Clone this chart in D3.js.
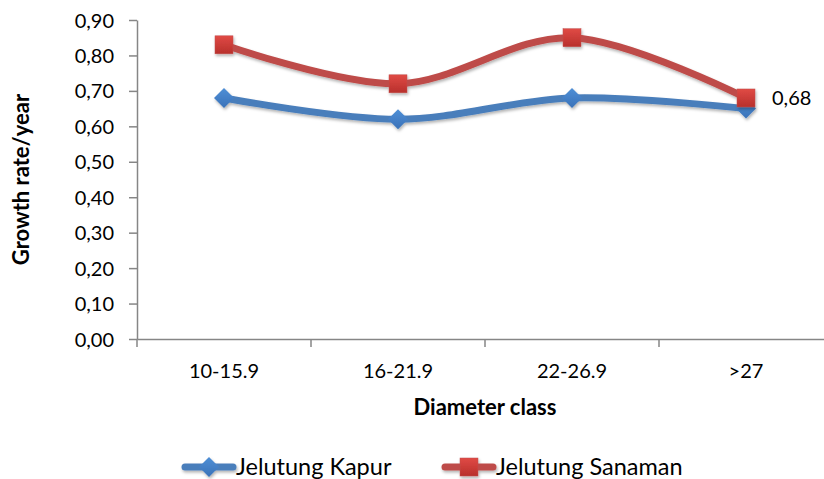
<!DOCTYPE html>
<html><head><meta charset="utf-8">
<script src="https://cdn.jsdelivr.net/npm/d3@7"></script>
<style>body{margin:0;background:#fff}svg{display:block}text{font-family:Lato,"Open Sans",sans-serif;fill:#000}</style>
</head><body><svg id="c" width="824" height="479"></svg>
<script>
const categories = ["10-15.9","16-21.9","22-26.9",">27"];
const kapur = [0.68,0.62,0.68,0.65];
const sanaman = [0.83,0.72,0.85,0.68];
const yTicks = [0,0.1,0.2,0.3,0.4,0.5,0.6,0.7,0.8,0.9];
const seriesNames = ["Jelutung Kapur","Jelutung Sanaman"];

(function(){
const svg = d3.select("#c");
const pL = 137, pR = 833, pT = 20, pB = 339;
const x = d3.scaleBand().domain(categories).range([pL, pR]);
const y = d3.scaleLinear().domain([0,0.9]).range([pB, pT]);
const fmt = v => d3.format(".2f")(v).replace(".", ",");

const defs = svg.append("defs");
const f = defs.append("filter").attr("id","sh").attr("x","-10%").attr("y","-10%").attr("width","130%").attr("height","140%");
f.append("feDropShadow").attr("dx",1).attr("dy",2).attr("stdDeviation",1.5).attr("flood-color","#000").attr("flood-opacity",0.3);
const gr = defs.append("linearGradient").attr("id","rg").attr("x1",0).attr("y1",0).attr("x2",0).attr("y2",1);
gr.append("stop").attr("offset","0").attr("stop-color","#e04a45");
gr.append("stop").attr("offset","1").attr("stop-color","#b8302c");
const gb = defs.append("linearGradient").attr("id","bg").attr("x1",0).attr("y1",0).attr("x2",0).attr("y2",1);
gb.append("stop").attr("offset","0").attr("stop-color","#4f8fd6");
gb.append("stop").attr("offset","1").attr("stop-color","#3a72b8");

const ya = svg.append("g").attr("transform",`translate(${pL},0)`)
  .call(d3.axisLeft(y).tickValues(yTicks).tickFormat(fmt).tickSize(8).tickSizeOuter(0));
const xa = svg.append("g").attr("transform",`translate(0,${pB})`)
  .call(d3.axisBottom(x).tickSize(0).tickSizeOuter(0));
[ya,xa].forEach(g=>{g.select(".domain").attr("stroke","#868686").attr("stroke-width",1.5);
  g.selectAll(".tick line").attr("stroke","#868686").attr("stroke-width",1.5);
  g.selectAll("text").style("font-size","20px").attr("fill","#000");});
ya.selectAll("text").attr("x",-23).attr("dy","0.35em");
xa.selectAll(".tick text").attr("dy",0).attr("y",39);
const bounds = categories.map(c=>x(c)).concat([x(categories[categories.length-1])+x.bandwidth()]);
xa.selectAll(".bt").data(bounds).enter().append("line").attr("class","bt")
  .attr("x1",d=>d).attr("x2",d=>d).attr("y1",0).attr("y2",8).attr("stroke","#868686").attr("stroke-width",1.5);

const cx = c => x(c) + x.bandwidth()/2;
const line = d3.line().x((d,i)=>cx(categories[i])).y(d=>y(d)).curve(d3.curveCatmullRom.alpha(0));

const series = [
  {name:seriesNames[0], values:kapur, color:"#4a7ebb", shape:"diamond"},
  {name:seriesNames[1], values:sanaman, color:"#be4b48", shape:"square"}
];
function marker(g, shape){
  if(shape==="square") g.append("rect").attr("x",-9).attr("y",-9).attr("width",18).attr("height",18).attr("fill","url(#rg)").attr("stroke","#c0504d").attr("stroke-width",0.5);
  else g.append("path").attr("d","M0,-10L10,0L0,10L-10,0Z").attr("fill","url(#bg)");
}
series.forEach(s=>{
  const g = svg.append("g").attr("filter","url(#sh)");
  g.append("path").attr("d",line(s.values)).attr("fill","none").attr("stroke",s.color).attr("stroke-width",7).attr("stroke-linecap","round");
  s.values.forEach((v,i)=>{ const m=g.append("g").attr("transform",`translate(${cx(categories[i])},${y(v)})`); marker(m,s.shape); });
});
svg.append("text").attr("x",cx(categories[3])+26).attr("y",y(sanaman[3])).attr("dy","0.35em").style("font-size","20px").text(fmt(sanaman[3]));

svg.append("text").attr("transform",`translate(29,${(pT+pB)/2}) rotate(-90)`).attr("text-anchor","middle")
  .style("font-size","22px").style("font-weight","bold").text("Growth rate/year");
svg.append("text").attr("x",485).attr("y",415).attr("text-anchor","middle").style("font-size","22px").style("font-weight","bold").text("Diameter class");

const lg = [182,442];
series.forEach((s,i)=>{
  const g = svg.append("g").attr("transform",`translate(${lg[i]},467)`);
  const gg = g.append("g").attr("filter","url(#sh)");
  gg.append("line").attr("x1",3).attr("x2",51).attr("y1",0).attr("y2",0).attr("stroke",s.color).attr("stroke-width",7).attr("stroke-linecap","round");
  const m = gg.append("g").attr("transform","translate(27,0)"); marker(m,s.shape);
  g.append("text").attr("x",54).attr("dy","0.35em").style("font-size","23.5px").text(s.name);
});
})();
</script></body></html>
